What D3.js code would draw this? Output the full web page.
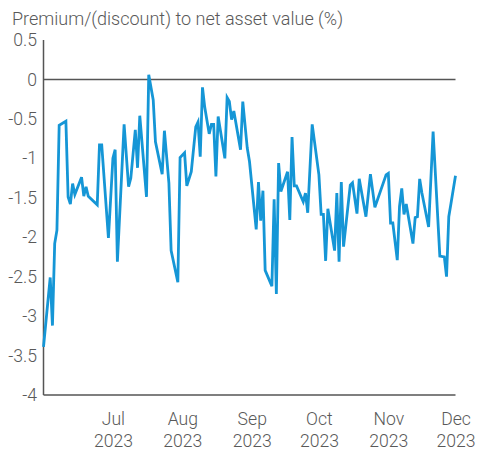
<!DOCTYPE html>
<html><head><meta charset="utf-8">
<script src="https://cdn.jsdelivr.net/npm/d3@7"></script>
<style>
html,body{margin:0;padding:0;background:#fff;}
text{font-family:Roboto,"Noto Sans",sans-serif;font-weight:300;fill:#595959;}
</style></head>
<body><svg id="c" width="480" height="451"></svg>
<script>
const title = "Premium/(discount) to net asset value (%)";
const dates = ["2023-05-31","2023-06-03","2023-06-04","2023-06-05","2023-06-06","2023-06-07","2023-06-10","2023-06-11","2023-06-12","2023-06-13",
"2023-06-14","2023-06-17","2023-06-18","2023-06-19","2023-06-20","2023-06-24","2023-06-25","2023-06-26","2023-06-29","2023-07-01",
"2023-07-02","2023-07-03","2023-07-06","2023-07-08","2023-07-09","2023-07-11","2023-07-12","2023-07-13","2023-07-16","2023-07-17",
"2023-07-19","2023-07-20","2023-07-23","2023-07-24","2023-07-26","2023-07-27","2023-07-30","2023-07-31","2023-08-02","2023-08-03",
"2023-08-05","2023-08-07","2023-08-08","2023-08-09","2023-08-10","2023-08-11","2023-08-13","2023-08-14","2023-08-15","2023-08-16",
"2023-08-17","2023-08-20","2023-08-21","2023-08-22","2023-08-23","2023-08-24","2023-08-27","2023-08-28","2023-08-30","2023-08-31",
"2023-09-03","2023-09-04","2023-09-05","2023-09-06","2023-09-07","2023-09-10","2023-09-11","2023-09-12","2023-09-13","2023-09-14",
"2023-09-17","2023-09-18","2023-09-19","2023-09-20","2023-09-21","2023-09-24","2023-09-25","2023-09-26","2023-09-28","2023-10-01",
"2023-10-02","2023-10-03","2023-10-04","2023-10-05","2023-10-08","2023-10-09","2023-10-10","2023-10-11","2023-10-12","2023-10-15",
"2023-10-16","2023-10-18","2023-10-19","2023-10-22","2023-10-24","2023-10-26","2023-10-31","2023-11-01","2023-11-02","2023-11-03",
"2023-11-05","2023-11-06","2023-11-07","2023-11-08","2023-11-09","2023-11-12","2023-11-13","2023-11-14","2023-11-15","2023-11-16",
"2023-11-19","2023-11-21","2023-11-24","2023-11-26","2023-11-27","2023-11-28","2023-11-29","2023-12-01"];
const values = [-3.39,-2.51,-3.12,-2.08,-1.91,-0.58,-0.53,-1.49,-1.58,-1.32,
-1.46,-1.24,-1.48,-1.36,-1.48,-1.59,-0.83,-0.83,-2.01,-1.00,
-0.89,-2.31,-0.57,-1.36,-1.25,-0.64,-1.12,-0.46,-1.49,0.06,
-0.26,-0.79,-1.20,-0.65,-1.31,-2.17,-2.57,-0.99,-0.93,-1.35,
-1.17,-0.60,-0.54,-0.98,-0.10,-0.35,-0.69,-0.57,-0.57,-1.23,
-0.47,-1.00,-0.23,-0.28,-0.51,-0.40,-0.89,-0.28,-0.87,-1.04,
-1.90,-1.30,-1.79,-1.41,-2.42,-2.62,-1.52,-2.72,-1.06,-1.42,
-1.17,-1.78,-0.73,-1.35,-1.35,-1.55,-1.44,-1.69,-0.57,-1.21,
-1.71,-1.71,-2.30,-1.64,-2.17,-1.44,-2.31,-1.30,-2.12,-1.34,
-1.31,-1.70,-1.26,-1.74,-1.20,-1.62,-1.21,-1.19,-1.82,-1.82,
-2.29,-1.61,-1.38,-1.71,-1.58,-2.08,-1.75,-1.74,-1.26,-1.44,
-1.87,-0.66,-2.24,-2.25,-2.50,-1.74,-1.57,-1.22];
const yTicks = [0.5,0,-0.5,-1,-1.5,-2,-2.5,-3,-3.5,-4];
const xTickDates = ["2023-07-01","2023-08-01","2023-09-01","2023-10-01","2023-11-01","2023-12-01"];
const xDomain = ["2023-05-31","2023-12-01"];

const parse = d3.timeParse("%Y-%m-%d");
const data = dates.map((d,i)=>({date:parse(d), value:values[i]}));
const svg = d3.select("#c");
const L = 43.5, R = 455.5, T = 40, B = 395;
const FS = 17.6;
const x = d3.scaleTime().domain(xDomain.map(parse)).range([L, R]);
const y = d3.scaleLinear().domain([-4, 0.5]).range([B, T]);

svg.append("text").attr("x", 12).attr("y", 25).attr("font-size", 18).text(title);

// y axis labels
const yAx = svg.append("g").attr("transform", `translate(${L},0)`)
  .call(d3.axisLeft(y).tickValues(yTicks).tickSize(0).tickPadding(6.5).tickFormat(d=>String(d)));
yAx.select(".domain").remove();
yAx.selectAll("text").attr("font-size", FS).style("font-family","Roboto").style("fill","#595959");

// x axis labels
const xAx = svg.append("g").attr("transform", `translate(0,${B})`)
  .call(d3.axisBottom(x).tickValues(xTickDates.map(parse)).tickSize(0).tickFormat(""));
xAx.select(".domain").remove();
xAx.selectAll(".tick").each(function(d){
  const t = d3.select(this).append("text").attr("text-anchor","middle")
    .attr("font-size",FS).style("fill","#595959");
  t.append("tspan").attr("x",0).attr("y",30).text(d3.timeFormat("%b")(d));
  t.append("tspan").attr("x",0).attr("y",52).text(d3.timeFormat("%Y")(d));
});

// axis lines
svg.append("line").attr("x1",L).attr("x2",L).attr("y1",T).attr("y2",B).attr("stroke","#555").attr("stroke-width",1.5);
svg.append("line").attr("x1",L).attr("x2",R).attr("y1",B).attr("y2",B).attr("stroke","#555").attr("stroke-width",1.5);
svg.append("line").attr("x1",L).attr("x2",R).attr("y1",y(0)).attr("y2",y(0)).attr("stroke","#555").attr("stroke-width",1.5);

svg.append("path").datum(data)
  .attr("fill","none").attr("stroke","#1596d6").attr("stroke-width",2.8)
  .attr("stroke-linejoin","miter").attr("stroke-miterlimit",4)
  .attr("d", d3.line().x(d=>x(d.date)).y(d=>y(d.value)));
</script></body></html>
